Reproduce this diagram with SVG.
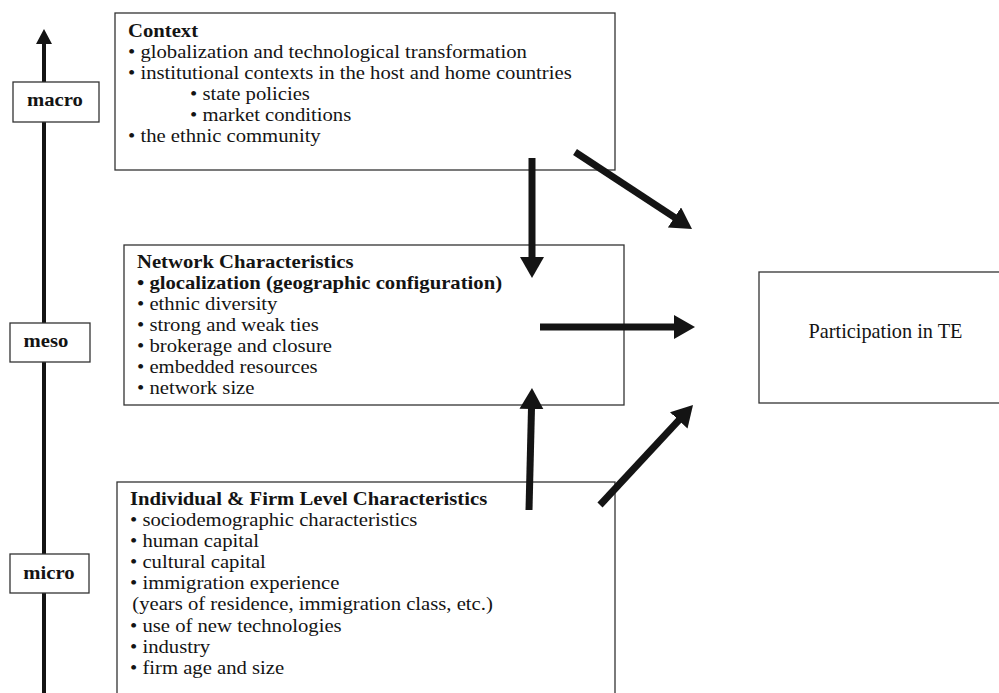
<svg xmlns="http://www.w3.org/2000/svg" width="999" height="693" viewBox="0 0 999 693">
  <style>
    .box { fill: #fff; stroke: #333; stroke-width: 1.3; }
    .t { font-family: "Liberation Serif", "Times New Roman", serif; font-size: 18px; fill: #141414; }
    .b { font-weight: bold; }
    .lbl { text-anchor: middle; }
    .arrow { stroke: #141414; stroke-width: 7; fill: none; marker-end: url(#head); }
  </style>
  <defs>
    <marker id="head" markerUnits="userSpaceOnUse" markerWidth="22" markerHeight="26" refX="1" refY="12" orient="auto">
      <path d="M0,0 L21,12 L0,24 Z" fill="#141414"/>
    </marker>
  </defs>
  <rect width="999" height="693" fill="#fff"/>

  <!-- level axis: micro to macro -->
  <g id="axis">
    <line x1="44" y1="42" x2="44" y2="693" stroke="#141414" stroke-width="4"/>
    <polygon points="44,29 36,44 52,44" fill="#141414"/>
  </g>
  <g id="level-macro">
    <rect class="box" x="13" y="82" width="86" height="40"/>
    <text class="t b lbl" transform="matrix(1.15 0 0 1 55 106)">macro</text>
  </g>
  <g id="level-meso">
    <rect class="box" x="10" y="323" width="80" height="39"/>
    <text class="t b lbl" transform="matrix(1.15 0 0 1 46 347)">meso</text>
  </g>
  <g id="level-micro">
    <rect class="box" x="10" y="554" width="79" height="39"/>
    <text class="t b lbl" transform="matrix(1.15 0 0 1 49 579)">micro</text>
  </g>

  <!-- context (macro) -->
  <g id="context">
    <rect class="box" x="115" y="13" width="500" height="157"/>
    <g transform="matrix(1.15 0 0 1 128 0)">
      <text class="t b" x="0" y="37">Context</text>
      <text class="t" x="0" y="58">• globalization and technological transformation</text>
      <text class="t" x="0" y="79">• institutional contexts in the host and home countries</text>
      <text class="t" x="54" y="100">• state policies</text>
      <text class="t" x="54" y="121">• market conditions</text>
      <text class="t" x="0" y="142">• the ethnic community</text>
    </g>
  </g>

  <!-- network characteristics (meso) -->
  <g id="network">
    <rect class="box" x="124" y="245" width="500" height="160"/>
    <g transform="matrix(1.15 0 0 1 137 0)">
      <text class="t b" x="0" y="268">Network Characteristics</text>
      <text class="t b" x="0" y="289">• glocalization (geographic configuration)</text>
      <text class="t" x="0" y="310">• ethnic diversity</text>
      <text class="t" x="0" y="331">• strong and weak ties</text>
      <text class="t" x="0" y="352">• brokerage and closure</text>
      <text class="t" x="0" y="373">• embedded resources</text>
      <text class="t" x="0" y="394">• network size</text>
    </g>
  </g>

  <!-- individual & firm (micro) -->
  <g id="individual">
    <rect class="box" x="117" y="482" width="498" height="230"/>
    <g transform="matrix(1.15 0 0 1 130 0)">
      <text class="t b" x="0" y="505">Individual &amp; Firm Level Characteristics</text>
      <text class="t" x="0" y="526">• sociodemographic characteristics</text>
      <text class="t" x="0" y="547">• human capital</text>
      <text class="t" x="0" y="568">• cultural capital</text>
      <text class="t" x="0" y="589">• immigration experience</text>
      <text class="t" x="2" y="610">(years of residence, immigration class, etc.)</text>
      <text class="t" x="0" y="632">• use of new technologies</text>
      <text class="t" x="0" y="653">• industry</text>
      <text class="t" x="0" y="674">• firm age and size</text>
    </g>
  </g>

  <!-- outcome -->
  <g id="participation">
    <rect class="box" x="759" y="272" width="260" height="131"/>
    <text class="t lbl" x="885.5" y="338" style="font-size:20.3px">Participation in TE</text>
  </g>

  <g id="connectors">
    <line class="arrow" x1="532" y1="158" x2="532" y2="258"/>
    <line class="arrow" x1="575" y1="152" x2="675.3" y2="217.9"/>
    <line class="arrow" x1="540" y1="327" x2="675" y2="327"/>
    <line class="arrow" x1="529" y1="510" x2="531.5" y2="408"/>
    <line class="arrow" x1="600" y1="505" x2="679.4" y2="419.6"/>
  </g>
</svg>
